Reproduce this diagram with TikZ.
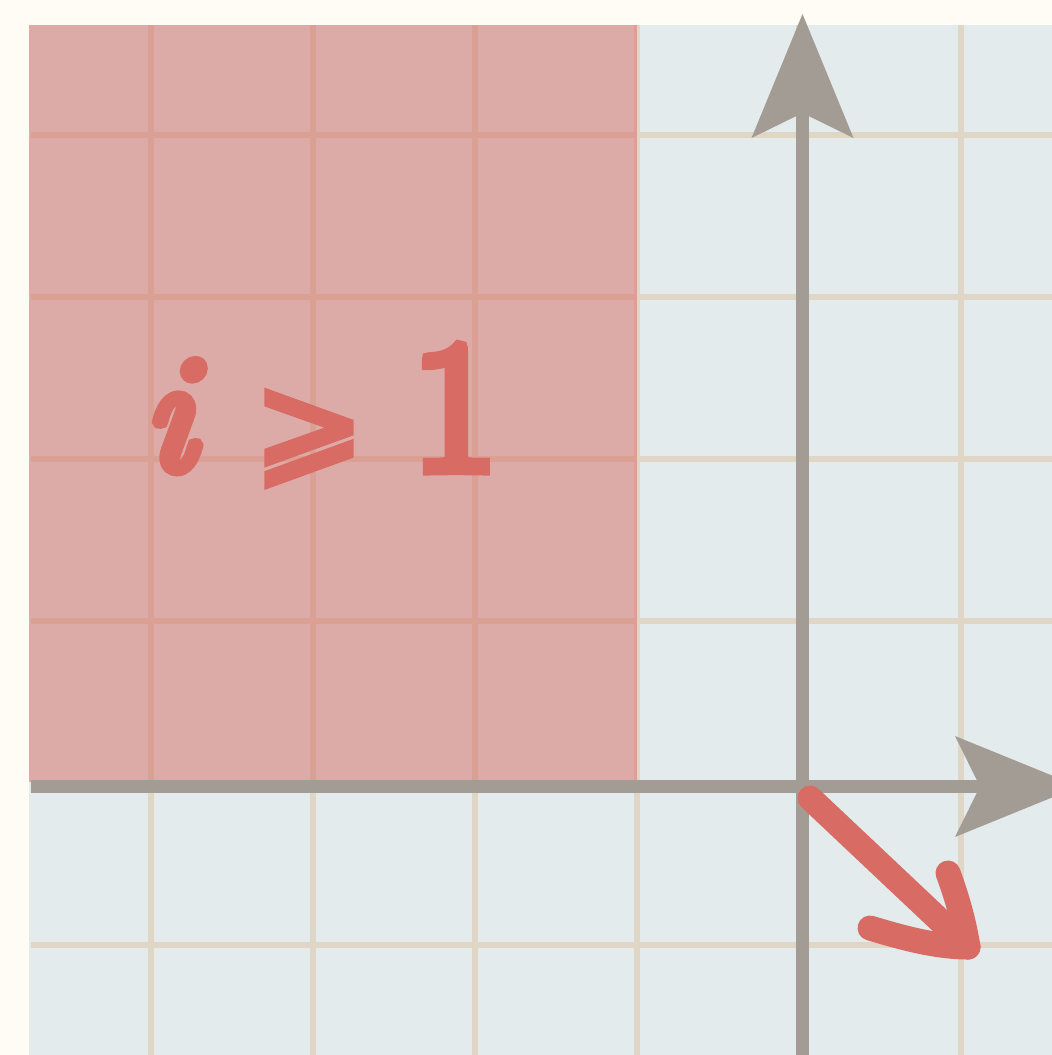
\documentclass[tikz,border=0pt]{standalone}
\usepackage{fontspec}
\newfontfamily\handfont[FakeBold=5]{DejaVu Sans}
\newfontfamily\handserif[FakeBold=7]{Latin Modern Roman}
\definecolor{cream}{RGB}{255,252,246}
\definecolor{paper}{RGB}{227,235,236}
\definecolor{beige}{RGB}{224,214,197}
\definecolor{axisgray}{RGB}{163,156,149}
\definecolor{handred}{RGB}{216,108,100}
\tikzset{
  gridline/.style={draw=beige, line width=6pt},
  axisline/.style={draw=axisgray, line width=13pt},
  axishead/.style={fill=axisgray},
  regionfill/.style={fill=handred, fill opacity=0.5},
  handstroke/.style={draw=handred, line width=25pt, line cap=round, line join=round},
  handtext/.style={text=handred, inner sep=0pt, anchor=base west, font={\handserif\fontsize{165}{175}\selectfont}}
}
\begin{document}
\begin{tikzpicture}[x=1pt,y=-1pt]
\useasboundingbox (0,0) rectangle (1052,1055);
\fill[cream] (0,0) rectangle (1052,1055);
\clip (0,0) rectangle (1052,1055);
% paper
\fill[paper] (29,25) rectangle (1052,1055);
\foreach \x in {151,313,475,637,799,961} \draw[gridline] (\x,25) -- (\x,1055);
\foreach \y in {135,297,459,621,783,945} \draw[gridline] (31,\y) -- (1052,\y);
% shaded region
\fill[regionfill] (29,25) rectangle (637,782);
% axes
\coordinate (O) at (802.5,786.5);
\coordinate (ytip) at (802.5,14);
\coordinate (xtip) at (1079,786.5);
\draw[axisline] (802.5,1060) -- (802.5,110);
\draw[axisline] (31,786.5) -- (985,786.5);
\fill[axishead] (ytip) -- (751.5,138) -- (802.5,113) -- (853.5,138) -- cycle;
\fill[axishead] (xtip) -- (955,736) -- (980,786.5) -- (955,837) -- cycle;
% label
\node[handtext] (label) at (144,469) {\itshape i\hspace{60pt}{\handfont\fontsize{132}{140}\selectfont ⩾}\hspace{48pt}{\upshape\fontsize{185}{190}\selectfont 1}};
% red vector
\coordinate (vstart) at (810,798);
\coordinate (vtip) at (968,947);
\draw[handstroke] (vstart) -- (vtip);
\draw[handstroke] (948,873) .. controls (957,897) and (964,922) .. (vtip);
\draw[handstroke] (870,928) .. controls (900,937) and (935,947) .. (vtip);
\end{tikzpicture}
\end{document}
